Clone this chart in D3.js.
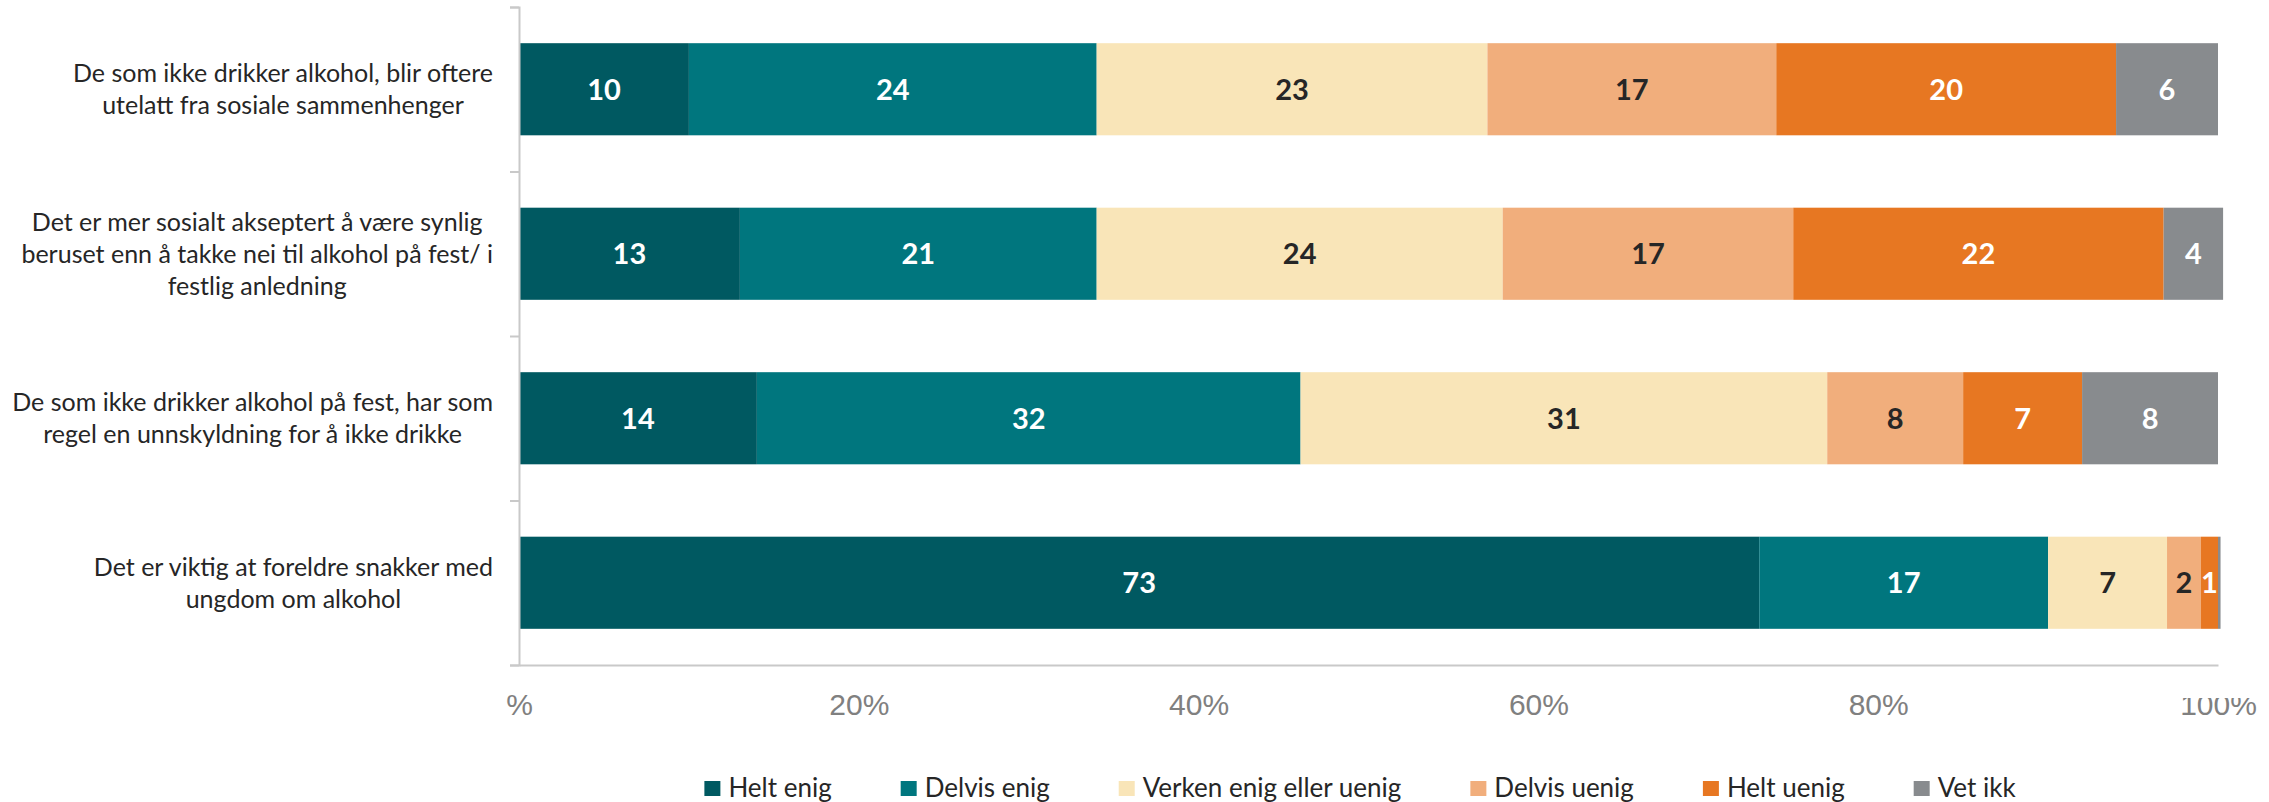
<!DOCTYPE html>
<html>
<head>
<meta charset="utf-8">
<script src="https://cdn.jsdelivr.net/npm/d3@7"></script>
<style>
  body { margin: 0; background: #fff; }
  svg { display: block; font-family: Lato, "Open Sans", sans-serif; }
</style>
</head>
<body>
<div id="chart"></div>
<script>
// statements, one entry per bar (line breaks as in the original)
const categoryLines = [
  ["De som ikke drikker alkohol, blir oftere", "utelatt fra sosiale sammenhenger"],
  ["Det er mer sosialt akseptert å være synlig", "beruset enn å takke nei til alkohol på fest/ i", "festlig anledning"],
  ["De som ikke drikker alkohol på fest, har som", "regel en unnskyldning for å ikke drikke"],
  ["Det er viktig at foreldre snakker med", "ungdom om alkohol"],
];
const categories = categoryLines.map((l) => l.join(" "));

const series = ["Helt enig", "Delvis enig", "Verken enig eller uenig", "Delvis uenig", "Helt uenig", "Vet ikk"];

// percent per statement
const heltEnig = [10, 13, 14, 73];
const delvisEnig = [24, 21, 32, 17];
const verken = [23, 23.9, 31, 7];
const delvisUenig = [17, 17.1, 8, 2];
const heltUenig = [20, 21.8, 7, 1];
const vetIkk = [6, 3.5, 8, 0.15];

const tickValues = [0, 20, 40, 60, 80, 100];
const tickLabels = ["%", "20%", "40%", "60%", "80%", "100%"];

const colors = ["#005961", "#00767e", "#f9e5b8", "#f1ae7c", "#e77722", "#888b8e"];
const labelColors = ["#fff", "#fff", "#262626", "#262626", "#fff", "#fff"];

const width = 2269,
  height = 802;

const columns = [heltEnig, delvisEnig, verken, delvisUenig, heltUenig, vetIkk];
const rows = categories.map((c, i) => {
  const r = { cat: c };
  series.forEach((s, j) => (r[s] = columns[j][i]));
  return r;
});
const stacked = d3.stack().keys(series)(rows);

const svg = d3
  .select("#chart")
  .append("svg")
  .attr("width", width)
  .attr("height", height);

const x = d3.scaleLinear().domain([0, 100]).range([519, 2218]);
const y = d3
  .scaleBand()
  .domain(categories)
  .range([7, 665])
  .paddingInner(0.44)
  .paddingOuter(0.22);

// Bars
const layer = svg
  .append("g")
  .selectAll("g.layer")
  .data(stacked)
  .join("g")
  .attr("class", "layer")
  .attr("fill", (d, i) => colors[i]);

layer
  .selectAll("rect")
  .data((d) => d)
  .join("rect")
  .attr("x", (d) => x(d[0]))
  .attr("y", (d) => y(d.data.cat))
  .attr("width", (d) => x(d[1]) - x(d[0]))
  .attr("height", y.bandwidth());

// Value labels
const fmt = d3.format(".0f");
layer
  .selectAll("text")
  .data((d, i) => d.map((p) => ({ p, i })).filter((o) => o.p[1] - o.p[0] >= 0.5))
  .join("text")
  .attr("x", (o) => (x(o.p[0]) + x(o.p[1])) / 2)
  .attr("y", (o) => y(o.p.data.cat) + y.bandwidth() / 2)
  .attr("dy", "0.36em")
  .attr("text-anchor", "middle")
  .attr("fill", (o) => labelColors[o.i])
  .style("font-size", "29px")
  .style("font-weight", "bold")
  .text((o) => fmt(o.p[1] - o.p[0]));

// Y axis: line with outward ticks at band edges
const yEdges = d3.scaleLinear().domain([0, categories.length]).range([7, 665]);
const yAxis = svg
  .append("g")
  .attr("transform", `translate(${x(0)},0)`)
  .call(
    d3
      .axisLeft(yEdges)
      .ticks(categories.length)
      .tickSize(9)
      .tickSizeOuter(9)
      .tickFormat(""),
  );
yAxis.selectAll("path, line").attr("stroke", "#c9c9c9").attr("stroke-width", 2);

// X axis
const xAxis = svg
  .append("g")
  .attr("transform", `translate(0,665)`)
  .call(
    d3
      .axisBottom(x)
      .tickValues(tickValues)
      .tickSize(0)
      .tickPadding(29)
      .tickFormat((d, i) => tickLabels[i]),
  );
xAxis.select(".domain").attr("stroke", "#c9c9c9").attr("stroke-width", 2);
xAxis
  .selectAll("text")
  .attr("fill", "#808080")
  .style("font-size", "30px")
  .style("font-family", null);

// the last tick label is cut at its top in the original
svg
  .append("clipPath")
  .attr("id", "clip-last")
  .append("rect")
  .attr("x", -100)
  .attr("y", 33)
  .attr("width", 200)
  .attr("height", 100);
xAxis
  .selectAll(".tick")
  .filter((d) => d === 100)
  .select("text")
  .attr("clip-path", "url(#clip-last)");

// Category labels: block right-aligned, lines centred inside it
const catG = svg.append("g").attr("fill", "#262626").style("font-size", "25px");
categories.forEach((c, i) => {
  const lines = categoryLines[i];
  const cy = y(c) + y.bandwidth() / 2;
  const t = catG.append("text").attr("text-anchor", "middle");
  lines.forEach((l, k) => {
    t.append("tspan")
      .attr("y", cy + (k - (lines.length - 1) / 2) * 32)
      .attr("dy", "0.35em")
      .text(l);
  });
  let maxW = 0;
  t.selectAll("tspan").each(function () {
    maxW = Math.max(maxW, this.getComputedTextLength());
  });
  t.selectAll("tspan").attr("x", 493 - maxW / 2);
});

// Legend
const legend = svg.append("g").style("font-size", "26px");
let lx = 0;
series.forEach((s, i) => {
  const item = legend.append("g").attr("transform", `translate(${lx},0)`);
  item
    .append("rect")
    .attr("x", 0)
    .attr("y", -7)
    .attr("width", 16)
    .attr("height", 15)
    .attr("fill", colors[i]);
  const txt = item
    .append("text")
    .attr("x", 24)
    .attr("dy", "0.35em")
    .attr("fill", "#262626")
    .text(s);
  lx += 24 + txt.node().getComputedTextLength() + 69;
});
const legendW = lx - 69;
legend.attr("transform", `translate(${1360 - legendW / 2},788)`);
</script>
</body>
</html>
